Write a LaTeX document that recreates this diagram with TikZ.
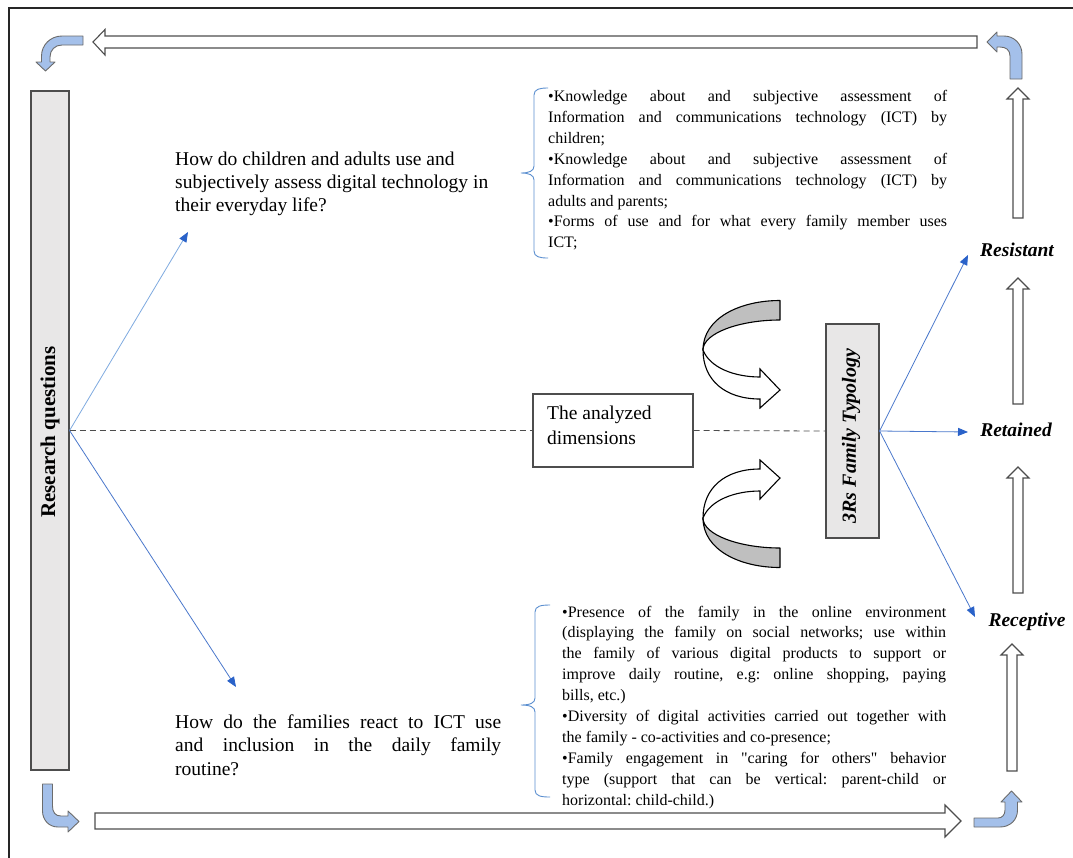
\documentclass[tikz,border=0pt]{standalone}
\usepackage{fontspec}
\setmainfont{Liberation Serif}[Ligatures=TeXOff]
\usetikzlibrary{arrows.meta}
\frenchspacing
\definecolor{bentblue}{HTML}{A4C0EA}
\definecolor{boxgray}{HTML}{E8E7E7}
\definecolor{linebluelight}{HTML}{7FAAE0}
\definecolor{lineblue}{HTML}{4A78CC}
\definecolor{tipblue}{HTML}{2A62C9}
\definecolor{bracecol}{HTML}{5B8FD0}
\definecolor{ugray}{HTML}{BFBFBF}
\definecolor{framecol}{HTML}{262626}
\definecolor{edgegray}{HTML}{4D4D4D}
\newcommand{\jl}[1]{\makebox[\linewidth][s]{#1}}
\newcommand{\hollowup}[3]{\draw[hollow] (#1-5,#3) -- (#1-5,#2+11) -- (#1-11,#2+11) -- (#1,#2) -- (#1+11,#2+11) -- (#1+5,#2+11) -- (#1+5,#3) -- cycle;}
\newcommand{\uturnarrow}[1]{%
  \draw[uturngray] (780,{434-#1*133.5}) .. controls (740,{434-#1*133.5}) and (703,{434-#1*116}) .. (703,{434-#1*84})
     .. controls (703,{434-#1*101}) and (740,{434-#1*114}) .. (780,{434-#1*114}) -- cycle;
  \draw[uturnwhite] (703,{434-#1*84}) .. controls (710,{434-#1*66}) and (735,{434-#1*57}) .. (760,{434-#1*57})
     -- (760,{434-#1*65}) -- (780,{434-#1*44}) -- (760,{434-#1*26}) -- (760,{434-#1*35})
     .. controls (725,{434-#1*35}) and (703,{434-#1*54}) .. (703,{434-#1*84}) -- cycle;}
\tikzset{
  hollow/.style={draw=edgegray, fill=white, line width=1.1pt, line join=miter},
  bent/.style={draw=gray!85!black, fill=bentblue, line width=0.9pt, line join=round},
  graybox/.style={draw=edgegray, fill=boxgray, line width=1.1pt, inner sep=0pt},
  plainbox/.style={draw=edgegray, fill=white, line width=1.1pt, inner sep=0pt},
  blueline/.style={draw=lineblue, line width=0.8pt, -{Triangle[length=10pt,width=8pt,color=tipblue]}},
  bluelight/.style={draw=linebluelight, line width=0.8pt, -{Triangle[length=10pt,width=8pt,color=tipblue]}},
  dashline/.style={draw=edgegray, line width=0.8pt, dash pattern=on 6pt off 4pt},
  bracepath/.style={draw=bracecol, line width=0.9pt},
  uturngray/.style={draw=black, fill=ugray, line width=1.1pt, line join=round},
  uturnwhite/.style={draw=black, fill=white, line width=1.1pt, line join=miter},
  lbl/.style={font=\fontsize{19.5}{23}\selectfont\bfseries\itshape, inner sep=0pt},
  txt/.style={anchor=base west, inner sep=0pt}
}
\begin{document}
\begin{tikzpicture}[x=1pt,y=-1pt]
\useasboundingbox (0,0) rectangle (1073,857);
\fill[white] (0,0) rectangle (1073,857);
\begin{scope}
\clip (0,0) rectangle (1073,857);
\draw[framecol, line width=1.5pt] (9,8) rectangle (1090,880);
\end{scope}

% top hollow arrow (pointing left)
\draw[hollow] (977,36) -- (105,36) -- (105,29.5) -- (93,42) -- (105,55) -- (105,48) -- (977,48) -- cycle;
% bottom hollow arrow (pointing right)
\draw[hollow] (95,813) -- (945,813) -- (945,805) -- (961,821) -- (945,837) -- (945,829) -- (95,829) -- cycle;

% bent blue arrows
\draw[bent] (83,36) -- (62,36) .. controls (50.5,36) and (41.5,45) .. (41.5,56) -- (41.5,62) -- (36,62) -- (45.5,71) -- (55,62) -- (50,62) -- (50,57) .. controls (50,50) and (55,45) .. (62,45) -- (83,45) -- cycle;
\draw[bent] (1010,79) -- (1010,56) .. controls (1010,50) and (1006,47) .. (1000,47) -- (997,47) -- (997,52) -- (987,42) -- (997,32) -- (997,36) -- (1004,36) .. controls (1014,36) and (1022,44) .. (1022,54) -- (1022,79) -- cycle;
\draw[bent] (42.5,784) -- (52.5,784) -- (52.5,806) .. controls (52.5,812) and (55,816) .. (61,816) -- (68,816) -- (68,811) -- (79,821.5) -- (68,832) -- (68,827) -- (58,827) .. controls (49,827) and (42.5,820) .. (42.5,811) -- cycle;
\draw[bent] (974,818) -- (998,818) .. controls (1002,818) and (1005,815) .. (1005,810) -- (1005,802) -- (1001,802) -- (1011.5,791) -- (1022,802) -- (1017.5,802) -- (1017.5,810) .. controls (1017.5,820) and (1010,827) .. (1000,827) -- (974,827) -- cycle;

% vertical hollow arrows on the right
\hollowup{1018}{88}{218}
\hollowup{1018}{278}{404}
\hollowup{1018}{467}{593}
\hollowup{1012}{644}{771}

% boxes
\node[graybox, minimum width=38pt, minimum height=679pt] (rq) at (50,430.5) {};
\node[rotate=90, inner sep=0pt, font=\fontsize{21}{24}\selectfont\bfseries] (rqtext) at (50,432) {Research questions};
\node[plainbox, minimum width=160pt, minimum height=73pt] (dims) at (613,430.5) {};
\node[txt] (dimstext) at (547,419) {\begin{minipage}[t]{140pt}\fontsize{19.5}{25}\selectfont The analyzed\\dimensions\end{minipage}};
\node[graybox, minimum width=53pt, minimum height=214pt] (typ) at (852.5,431) {};
\node[rotate=90, lbl, font=\fontsize{20}{24}\selectfont\bfseries\itshape] (typtext) at (851,436) {3Rs Family Typology};

% labels
\node[lbl] (res) at (1017,250) {Resistant};
\node[lbl] (ret) at (1016,430) {Retained};
\node[lbl] (rec) at (1027,622) {Receptive};

% questions
\node[txt] (q1) at (175,165) {\begin{minipage}[t]{340pt}\fontsize{19.5}{23}\selectfont How do children and adults use and\\subjectively assess digital technology in\\their everyday life?\end{minipage}};
\node[txt] (q2) at (175,728) {\begin{minipage}[t]{326pt}\fontsize{19.5}{23.5}\selectfont \jl{How do the families react to ICT use}\\\jl{and inclusion in the daily family}\\routine?\end{minipage}};

% bullet texts
\node[txt] (b1) at (548,101.5) {\begin{minipage}[t]{399pt}\fontsize{16}{20.9}\selectfont
\jl{•Knowledge about and subjective assessment of}\\
\jl{Information and communications technology (ICT) by}\\
children;\\
\jl{•Knowledge about and subjective assessment of}\\
\jl{Information and communications technology (ICT) by}\\
adults and parents;\\
\jl{•Forms of use and for what every family member uses}\\
ICT;\end{minipage}};
\node[txt] (b2) at (562,617) {\begin{minipage}[t]{384pt}\fontsize{16}{20.9}\selectfont
\jl{•Presence of the family in the online environment}\\
\jl{(displaying the family on social networks; use within}\\
\jl{the family of various digital products to support or}\\
\jl{improve daily routine, e.g: online shopping, paying}\\
bills, etc.)\\
\jl{•Diversity of digital activities carried out together with}\\
the family - co-activities and co-presence;\\
\jl{•Family engagement in "caring for others" behavior}\\
\jl{type (support that can be vertical: parent-child or}\\
horizontal: child-child.)\end{minipage}};

% braces
\draw[bracepath] (548,88) .. controls (540,88) and (534,89) .. (534,95) -- (534,166) .. controls (534,171) and (529,173) .. (521,173) .. controls (529,173) and (534,175) .. (534,180) -- (534,251) .. controls (534,257) and (540,258) .. (548,258);
\draw[bracepath] (550,605) .. controls (541,605) and (535,606) .. (535,612) -- (535,698) .. controls (535,703) and (530,705) .. (521,705) .. controls (530,705) and (535,707) .. (535,712) -- (535,790) .. controls (535,796) and (541,797) .. (550,797);

% connectors
\coordinate (q1end) at (188,232);
\coordinate (q2end) at (236,687);
\coordinate (resend) at (968,255);
\coordinate (retend) at (968,432);
\coordinate (recend) at (975,617);
\draw[bluelight] (rq.east) -- (q1end);
\draw[blueline] (rq.east) -- (q2end);
\draw[dashline] (rq.east) -- (dims.west);
\draw[dashline] (dims.east) -- (typ.west);
\draw[blueline] (typ.east) -- (resend);
\draw[blueline] (typ.east) -- (retend);
\draw[blueline] (typ.east) -- (recend);

% U-turn arrows
\uturnarrow{1}
\uturnarrow{(-1)}
\end{tikzpicture}
\end{document}
